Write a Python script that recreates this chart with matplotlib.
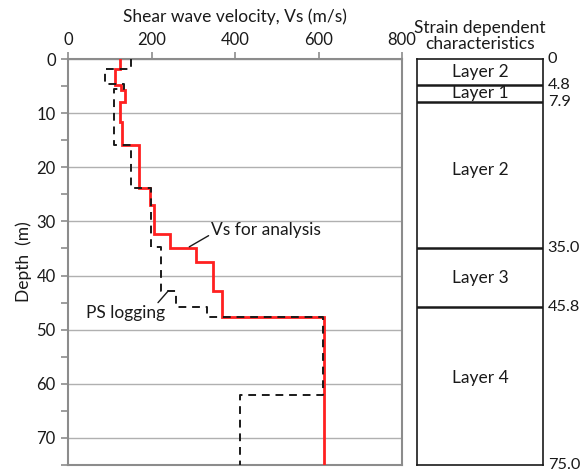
import matplotlib
matplotlib.use("Agg")
import matplotlib.pyplot as plt
import numpy as np

plt.rcParams['font.family'] = ['Lato', 'DejaVu Sans']

# Vs for analysis: layer top depths (m) and velocities (m/s)
analysis_depth_top = [0, 1.8, 4.8, 5.8, 7.9, 11.6, 15.8, 23.8, 27.0, 32.4, 35.0, 37.5, 42.8, 47.7]
analysis_vs = [123, 112, 127, 136, 124, 128, 169, 197, 205, 243, 305, 346, 369, 612]

# PS logging
ps_depth_top = [0, 1.8, 4.7, 5.5, 15.8, 23.8, 34.7, 42.8, 45.8, 47.7, 62.1]
ps_vs = [150, 88, 133, 109, 150, 199, 223, 258, 332, 610, 412]

max_depth = 75.0

# Strain dependent characteristics layers
layer_bounds = [0, 4.8, 7.9, 35.0, 45.8, 75.0]
layer_bound_labels = ["0", "4.8", "7.9", "35.0", "45.8", "75.0"]
layer_names = ["Layer 2", "Layer 1", "Layer 2", "Layer 3", "Layer 4"]

x_ticks = [0, 200, 400, 600, 800]
y_ticks = [0, 10, 20, 30, 40, 50, 60, 70]


def step_xy(tops, vals, bottom):
    xs, ys = [], []
    for i, v in enumerate(vals):
        t = tops[i]
        b = tops[i + 1] if i + 1 < len(tops) else bottom
        xs += [v, v]
        ys += [t, b]
    return xs, ys


W, H = 582, 473
fig = plt.figure(figsize=(W / 100, H / 100), dpi=100)

ax = fig.add_axes([68.3 / W, 1 - 465 / H, (402 - 68.3) / W, (465 - 59) / H])
ax2 = fig.add_axes([416.7 / W, 1 - 465 / H, (543.3 - 416.7) / W, (465 - 59) / H])

txtc = '#1a1a1a'
gray = '#8c8c8c'
fs = 12.5

ax.set_xlim(0, 800)
ax.set_ylim(max_depth, 0)
ax.xaxis.tick_top()
ax.xaxis.set_label_position('top')
ax.set_xticks(x_ticks)
ax.set_yticks(y_ticks)
ax.set_yticks(np.arange(5, 76, 10), minor=True)
ax.tick_params(axis='both', which='both', direction='out', length=5, width=1.2,
               color=gray, labelsize=12, labelcolor=txtc)
ax.tick_params(axis='x', pad=3)
ax.tick_params(axis='y', pad=4)
ax.grid(axis='y', which='major', color='#b0b0b0', linewidth=1.0)
ax.set_axisbelow(True)
for s in ax.spines.values():
    s.set_color(gray)
    s.set_linewidth(1.5)

ax.set_xlabel("Shear wave velocity, Vs (m/s)", fontsize=fs, color=txtc, labelpad=7)
ax.set_ylabel("Depth  (m)", fontsize=fs, color=txtc, labelpad=3)

xs, ys = step_xy(ps_depth_top, ps_vs, max_depth)
ax.plot(xs, ys, color='#1a1a1a', linewidth=1.4, linestyle=(0, (4, 3)), zorder=4)
xs, ys = step_xy(analysis_depth_top, analysis_vs, max_depth)
ax.plot(xs, ys, color='#ff2020', linewidth=2.0, zorder=3, solid_joinstyle='miter')

ax.annotate("Vs for analysis", xy=(290, 34.7), xytext=(343, 31.6),
            fontsize=fs, color=txtc, ha='left', va='center',
            arrowprops=dict(arrowstyle='-', color='#1a1a1a', lw=1.0,
                            shrinkA=0, shrinkB=0, relpos=(0, 0.25)))
ax.annotate("PS logging", xy=(240, 42.8), xytext=(232, 47.0),
            fontsize=fs, color=txtc, ha='right', va='center',
            arrowprops=dict(arrowstyle='-', color='#1a1a1a', lw=1.0,
                            shrinkA=0, shrinkB=0, relpos=(0.88, 1.0)),
            annotation_clip=False, zorder=6)

# Right panel
ax2.set_xlim(0, 1)
ax2.set_ylim(max_depth, 0)
ax2.set_xticks([])
ax2.set_yticks([])
for s in ax2.spines.values():
    s.set_color('#1a1a1a')
    s.set_linewidth(1.2)
for b in layer_bounds[1:-1]:
    ax2.axhline(b, color='#1a1a1a', linewidth=1.8)
for b, lab in zip(layer_bounds, layer_bound_labels):
    ax2.text(1.035, b, lab, transform=ax2.get_yaxis_transform(), ha='left', va='center',
             fontsize=11.8, color=txtc, clip_on=False)
for i, name in enumerate(layer_names):
    mid = (layer_bounds[i] + layer_bounds[i + 1]) / 2
    if i == 4:
        mid -= 1.5
    if i == 2:
        mid -= 0.9
    ax2.text(0.5, mid, name, ha='center', va='center', fontsize=fs, color=txtc)
ax2.text(0.5, 1 + (59 - 36) / 406, "Strain dependent\ncharacteristics",
         transform=ax2.transAxes, ha='center', va='center', fontsize=fs,
         color=txtc, linespacing=1.05)

fig.savefig("out.png", dpi=100)
